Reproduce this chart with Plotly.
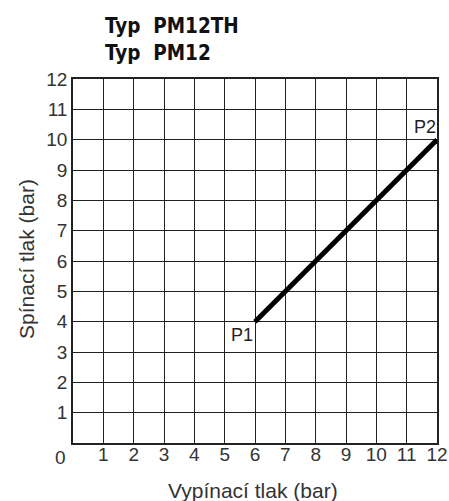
import plotly.graph_objects as go

x_vals = [6, 12]
y_vals = [4, 10]
point_labels = ["P1", "P2"]
x_ticks = list(range(1, 13))
y_ticks = list(range(1, 13))
titles = ["Typ  PM12TH", "Typ  PM12"]
x_title = "Vypínací tlak (bar)"
y_title = "Spínací tlak (bar)"

TICK_FONT = dict(size=19, color="#333", family="Liberation Sans")
TITLE_FONT = dict(size=21, color="#333", family="Liberation Sans")

fig = go.Figure()
fig.add_trace(go.Scatter(x=x_vals, y=y_vals, mode="lines",
                         line=dict(color="black", width=5), showlegend=False,
                         hoverinfo="skip", cliponaxis=False))

fig.add_annotation(x=x_vals[0], y=y_vals[0], text=point_labels[0], showarrow=False,
                   xanchor="right", yanchor="top", xshift=0, yshift=-1,
                   font=dict(size=18, color="#222", family="Liberation Sans"))
fig.add_annotation(x=x_vals[1], y=y_vals[1], text=point_labels[1], showarrow=False,
                   xanchor="right", yanchor="bottom", xshift=1, yshift=1,
                   font=dict(size=18, color="#222", family="Liberation Sans"))
fig.add_annotation(x=0, y=0, text="0", showarrow=False, xanchor="right", yanchor="top",
                   xshift=-5, yshift=-2, font=TICK_FONT)

for i, t in enumerate(titles):
    fig.add_annotation(xref="paper", yref="paper", x=0.083, y=1, text="<b>" + t + "</b>",
                       showarrow=False, xanchor="left", yanchor="bottom",
                       yshift=39 - 27 * i,
                       font=dict(size=20.5, color="#111", family="DejaVu Sans Condensed"))

fig.add_annotation(xref="paper", yref="paper", x=0.5, y=0, text=x_title, showarrow=False,
                   xanchor="center", yanchor="middle", yshift=-47, xshift=-2, font=TITLE_FONT)
fig.add_annotation(xref="paper", yref="paper", x=0, y=0.5, text=y_title, showarrow=False,
                   textangle=-90, xanchor="center", yanchor="middle", xshift=-47, yshift=2,
                   font=TITLE_FONT)

fig.update_xaxes(range=[0, 12], tickvals=x_ticks, showgrid=True, gridcolor="#222", gridwidth=1,
                 showline=True, linecolor="#222", linewidth=1.5, mirror=True, zeroline=False,
                 ticks="", tickfont=TICK_FONT, automargin=False, ticklabelstandoff=-7)
fig.update_yaxes(range=[0, 12], tickvals=y_ticks, showgrid=True, gridcolor="#222", gridwidth=1,
                 showline=True, linecolor="#222", linewidth=1.5, mirror=True, zeroline=False,
                 ticks="", tickfont=TICK_FONT, automargin=False)

fig.update_layout(width=449, height=501, margin=dict(l=73, r=12, t=79, b=58),
                  plot_bgcolor="white", paper_bgcolor="white",
                  font=dict(family="Liberation Sans"))
fig.write_html("out.html", config={"displayModeBar": False},
               post_script="document.body.style.margin='0';document.body.style.overflow='hidden';")
